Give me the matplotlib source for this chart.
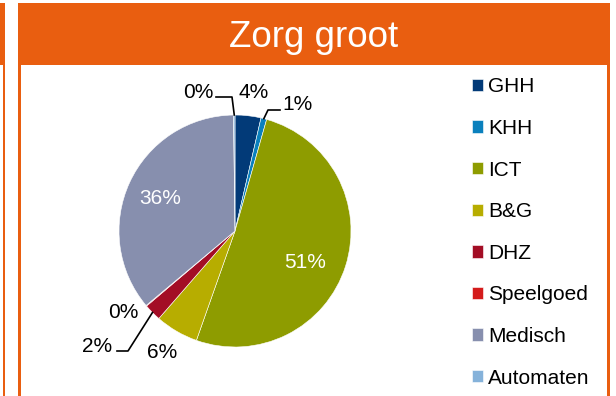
import numpy as np
import matplotlib
matplotlib.use("Agg")
import matplotlib.pyplot as plt
from matplotlib.patches import Rectangle

plt.rcParams['font.family'] = ['Liberation Sans', 'DejaVu Sans']

# market share per segment, in percent
categories = ['GHH', 'KHH', 'ICT', 'B&G', 'DHZ', 'Speelgoed', 'Medisch', 'Automaten']
shares = [3.6, 0.8, 51.0, 6.0, 2.4, 0.1, 35.9, 0.2]
colors = ['#023a78', '#0a80bd', '#8e9c00', '#b7ad00', '#a30d25', '#d41b1b', '#878fae', '#85b2da']
title = 'Zorg groot'

orange = '#e95e10'
W, H = 616, 396

fig = plt.figure(figsize=(W / 100, H / 100), dpi=100)
ax = fig.add_axes([0, 0, 1, 1])

# panel frame: header band and thin side borders
ax.add_patch(Rectangle((18, H - 65), 592, 62, color=orange, lw=0))
ax.add_patch(Rectangle((0, H - 65), 5, 62, color=orange, lw=0))
ax.add_patch(Rectangle((3, 0), 2, H - 65, color=orange, lw=0))
ax.add_patch(Rectangle((18, 0), 2.5, H - 65, color=orange, lw=0))
ax.add_patch(Rectangle((607, 0), 3, H - 65, color=orange, lw=0))
ax.text(314, H - 47, title, color='white', fontsize=26.5, ha='center', va='baseline')

# pie in pixel units
cx, cy, R = 235, H - 231, 116
wedges, _ = ax.pie(shares, colors=colors, startangle=90, counterclock=False,
                   center=(cx, cy), radius=R, frame=True,
                   wedgeprops=dict(edgecolor='white', linewidth=0.4))
ax.set_xlim(0, W)
ax.set_ylim(0, H)
ax.set_aspect('equal')
ax.axis('off')

# label placement: (text x, text y, text colour, leader bend point or None)
label_pos = [
    (254, H - 93, 'black', None),
    (297, H - 104, 'black', (280, H - 110, 268, H - 110)),
    (305, H - 262, 'white', None),
    (162, H - 352, 'black', None),
    (97, H - 347, 'black', (117, H - 351, 128, H - 351)),
    (123, H - 312, 'black', None),
    (160, H - 199, 'white', None),
    (198, H - 93, 'black', (216, H - 97, 232, H - 97)),
]

for w, v, (tx, ty, tc, lead) in zip(wedges, shares, label_pos):
    ax.text(tx, ty, f'{round(v)}%', color=tc, fontsize=15, ha='center', va='center')
    if lead is not None:
        mid = np.deg2rad((w.theta1 + w.theta2) / 2)
        ex, ey = cx + R * np.cos(mid), cy + R * np.sin(mid)
        ax.plot([lead[0], lead[2], ex], [lead[1], lead[3], ey], color='black', lw=1.2)

leg = ax.legend(wedges, categories, loc='upper left', bbox_to_anchor=(464 / W, 1 - 69 / H),
                frameon=False, fontsize=15, handlelength=0.53, handleheight=0.53,
                handletextpad=0.22, labelspacing=1.085, borderaxespad=0)

fig.savefig('out.png', dpi=100)
